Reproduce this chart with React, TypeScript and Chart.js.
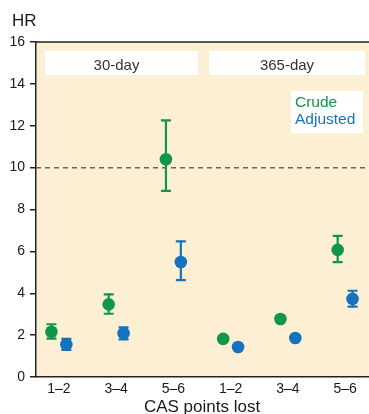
import React, { useEffect, useRef } from "react";
import { Chart, registerables } from "chart.js";

Chart.register(...registerables);

const categories = ["1–2", "3–4", "5–6", "1–2", "3–4", "5–6"];
const panels = ["30-day", "365-day"];
const yTicks = [0, 2, 4, 6, 8, 10, 12, 14, 16];

const crudeHR = [2.16, 3.47, 10.4, 1.82, 2.77, 6.07];
const crudeLow = [1.83, 3.02, 8.89, 1.7, 2.65, 5.49];
const crudeHigh = [2.52, 3.95, 12.26, 1.95, 2.9, 6.74];

const adjHR = [1.56, 2.09, 5.49, 1.43, 1.86, 3.73];
const adjLow = [1.3, 1.8, 4.63, 1.36, 1.78, 3.36];
const adjHigh = [1.82, 2.37, 6.48, 1.5, 1.95, 4.12];

const referenceHR = 10;

const GREEN = "#0f9747";
const BLUE = "#1572bd";
const BG = "#fdefd4";
const TXT = "#1a1a1a";
const FONT = "'Liberation Sans', Arial, Helvetica, sans-serif";
const OFFSET = 0.13;

const decorPlugin = {
  id: "decor",
  beforeDraw(chart: any) {
    const { ctx, chartArea: a } = chart;
    ctx.save();
    ctx.fillStyle = BG;
    ctx.fillRect(a.left, a.top, a.right - a.left + 1, a.bottom - a.top);
    ctx.restore();
  },
  beforeDatasetsDraw(chart: any) {
    const { ctx, chartArea: a, scales } = chart;
    const ys = scales.y;
    ctx.save();
    ctx.strokeStyle = "#222";
    ctx.lineWidth = 1.5;
    ctx.beginPath();
    ctx.moveTo(a.left, ys.getPixelForValue(16));
    ctx.lineTo(a.right + 1, ys.getPixelForValue(16));
    ctx.stroke();
    ctx.strokeStyle = "#666";
    ctx.lineWidth = 1.5;
    ctx.setLineDash([5, 4]);
    ctx.beginPath();
    const yr = ys.getPixelForValue(referenceHR);
    ctx.moveTo(a.left, yr);
    ctx.lineTo(a.right + 1, yr);
    ctx.stroke();
    ctx.setLineDash([]);
    ctx.fillStyle = "#ffffff";
    ctx.fillRect(45, 51, 153, 24);
    ctx.fillRect(209, 51, 156, 24);
    ctx.fillStyle = "#333";
    ctx.font = `15px ${FONT}`;
    ctx.textAlign = "center";
    ctx.textBaseline = "alphabetic";
    ctx.fillText(panels[0], 116.5, 69.5);
    ctx.fillText(panels[1], 287, 69.5);
    ctx.fillStyle = "#ffffff";
    ctx.fillRect(291, 91, 72, 42);
    ctx.textAlign = "left";
    ctx.font = `15.5px ${FONT}`;
    ctx.fillStyle = GREEN;
    ctx.fillText("Crude", 295, 106.5);
    ctx.fillStyle = BLUE;
    ctx.fillText("Adjusted", 295, 124);
    const xs = scales.x;
    const drawBars = (hr: number[], lo: number[], hi: number[], off: number, color: string) => {
      ctx.strokeStyle = color;
      ctx.lineWidth = 2.2;
      hr.forEach((_, i) => {
        const x = xs.getPixelForValue(i + off);
        const y1 = ys.getPixelForValue(lo[i]);
        const y2 = ys.getPixelForValue(hi[i]);
        ctx.beginPath();
        ctx.moveTo(x, y1);
        ctx.lineTo(x, y2);
        ctx.moveTo(x - 5, y1);
        ctx.lineTo(x + 5, y1);
        ctx.moveTo(x - 5, y2);
        ctx.lineTo(x + 5, y2);
        ctx.stroke();
      });
    };
    drawBars(crudeHR, crudeLow, crudeHigh, -OFFSET, GREEN);
    drawBars(adjHR, adjLow, adjHigh, OFFSET, BLUE);
    ctx.restore();
  },
  afterDraw(chart: any) {
    const { ctx } = chart;
    ctx.save();
    ctx.fillStyle = TXT;
    ctx.font = `17px ${FONT}`;
    ctx.textAlign = "left";
    ctx.fillText("HR", 12, 26);
    ctx.font = `17px ${FONT}`;
    ctx.textAlign = "center";
    ctx.fillText("CAS points lost", 202, 412);
    ctx.restore();
  },
};

export default function App() {
  const ref = useRef<HTMLCanvasElement>(null);
  useEffect(() => {
    if (!ref.current) return;
    const chart = new Chart(ref.current, {
      type: "scatter",
      data: {
        datasets: [
          {
            label: "Crude",
            data: crudeHR.map((v, i) => ({ x: i - OFFSET, y: v })),
            backgroundColor: GREEN,
            borderWidth: 0,
            pointRadius: 6.3,
          },
          {
            label: "Adjusted",
            data: adjHR.map((v, i) => ({ x: i + OFFSET, y: v })),
            backgroundColor: BLUE,
            borderWidth: 0,
            pointRadius: 6.3,
          },
        ],
      },
      options: {
        responsive: false,
        animation: false,
        layout: { autoPadding: false, padding: { top: 42, right: 1, left: 0, bottom: 0 } },
        plugins: { legend: { display: false }, tooltip: { enabled: false }, title: { display: false } },
        scales: {
          x: {
            type: "linear",
            min: -0.4,
            max: 5.4,
            afterBuildTicks: (scale: any) => {
              scale.ticks = categories.map((_, i) => ({ value: i }));
            },
            afterFit: (scale: any) => {
              scale.height = 37;
              scale.paddingLeft = 0;
              scale.paddingRight = 0;
            },
            grid: { display: true, drawOnChartArea: false, drawTicks: false, color: "#222" },
            border: { display: true, color: "#222", width: 1.5 },
            ticks: {
              padding: 4,
              color: TXT,
              font: { family: FONT, size: 14 },
              callback: (v: any) => categories[Math.round(Number(v))] ?? "",
            },
          },
          y: {
            min: 0,
            max: 16,
            afterBuildTicks: (scale: any) => {
              scale.ticks = yTicks.map((v) => ({ value: v }));
            },
            afterFit: (scale: any) => {
              scale.width = 36;
              scale.paddingTop = 0;
              scale.paddingBottom = 0;
            },
            grid: { display: true, drawOnChartArea: false, drawTicks: true, tickLength: 6, color: "#222", lineWidth: 1.5 },
            border: { display: true, color: "#222", width: 1.5 },
            ticks: {
              padding: 5,
              color: TXT,
              font: { family: FONT, size: 14 },
            },
          },
        },
      },
      plugins: [decorPlugin],
    } as any);
    return () => chart.destroy();
  }, []);
  return (
    <div style={{ position: "absolute", left: 0, top: 0, width: 369, height: 414, background: "#fff" }}>
      <canvas ref={ref} width={369} height={414} />
    </div>
  );
}
